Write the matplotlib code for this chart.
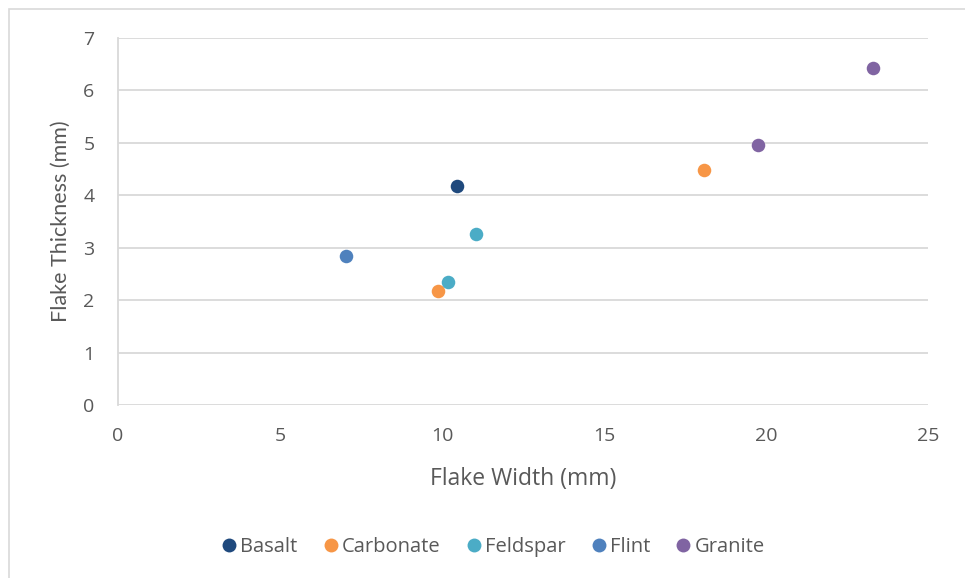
import matplotlib
matplotlib.use("Agg")
import matplotlib.pyplot as plt
from matplotlib.patches import Rectangle
from matplotlib.lines import Line2D

series_names = ["Basalt", "Carbonate", "Feldspar", "Flint", "Granite"]
basalt_x = [10.46]
basalt_y = [4.18]
carbonate_x = [9.88, 18.09]
carbonate_y = [2.17, 4.49]
feldspar_x = [11.05, 10.19]
feldspar_y = [3.27, 2.34]
flint_x = [7.04]
flint_y = [2.85]
granite_x = [19.75, 23.30]
granite_y = [4.95, 6.43]
colors = ["#1F497D", "#F79646", "#4BACC6", "#4F81BD", "#8064A2"]
x_ticks = [0, 5, 10, 15, 20, 25]
y_ticks = [0, 1, 2, 3, 4, 5, 6, 7]

plt.rcParams['font.family'] = ['Open Sans', 'DejaVu Sans']
text_color = "#595959"
grid_color = "#D9D9D9"

W, H = 965, 578
fig = plt.figure(figsize=(W / 100, H / 100), dpi=100)
fig.patches.append(Rectangle((9 / W, -0.2), 1.2, 1.2 - 9 / H, transform=fig.transFigure,
                             fill=False, edgecolor="#D9D9D9", linewidth=1.2))

left, right, top, bottom = 118, 928, 38, 405
ax = fig.add_axes([left / W, 1 - bottom / H, (right - left) / W, (bottom - top) / H])

data = [(basalt_x, basalt_y), (carbonate_x, carbonate_y), (feldspar_x, feldspar_y),
        (flint_x, flint_y), (granite_x, granite_y)]
for name, (xs, ys), c in zip(series_names, data, colors):
    ax.scatter(xs, ys, s=95, color=c, zorder=3, linewidths=0, label=name)

ax.set_xlim(0, 25)
ax.set_ylim(0, 7)
ax.set_xticks(x_ticks)
ax.set_yticks(y_ticks)
ax.grid(axis='y', color=grid_color, linewidth=1.3)
ax.set_axisbelow(True)
for s in ["top", "right", "bottom"]:
    ax.spines[s].set_visible(False)
ax.spines["left"].set_color(grid_color)
ax.spines["left"].set_linewidth(1.3)
ax.tick_params(length=0, labelsize=14, colors=text_color)
ax.tick_params(axis='x', pad=16)
ax.tick_params(axis='y', pad=17)

ax.set_xlabel("Flake Width (mm)", fontsize=16.5, color=text_color, labelpad=16)
ax.set_ylabel("Flake Thickness (mm)", fontsize=15.5, color=text_color, labelpad=9,
              family=['Lato', 'DejaVu Sans'])

handles = [Line2D([], [], marker='o', linestyle='none', markersize=10, color=c,
                  markeredgewidth=0) for c in colors]
fig.legend(handles, series_names, loc='center', bbox_to_anchor=(491 / W, 1 - 547 / H),
           ncol=5, frameon=False, fontsize=14.5, handletextpad=-0.05, columnspacing=1.05,
           labelcolor=text_color, handlelength=1.2)

fig.savefig("out.png", dpi=100)
